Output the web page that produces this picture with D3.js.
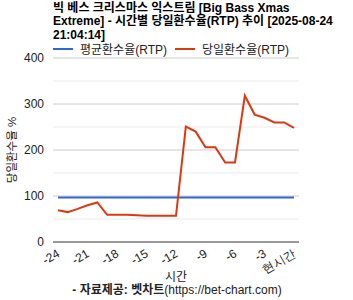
<!DOCTYPE html>
<html lang="ko">
<head>
<meta charset="UTF-8">
<title>RTP chart</title>
<script src="https://d3js.org/d3.v7.min.js"></script>
<style>
  body { margin: 0; background: #fff; }
  svg { display: block; font-family: Arial, "Liberation Sans", "Noto Sans CJK KR", sans-serif; }
</style>
</head>
<body>
<svg width="353" height="300"></svg>
<script>
// hours relative to now (0 = 현시간)
const hours = d3.range(-24, 1);
const dailyRtp = [69, 65, 72, 80, 86, 59, 59, 59, 58, 57, 57, 57, 57,
                  251, 240, 206, 206, 173, 173, 318, 277, 270, 260, 260, 248];
const avgRtp = hours.map(() => 97);
const tickHours = [-24, -21, -18, -15, -12, -9, -6, -3, 0];
const tickLabels = ["-24", "-21", "-18", "-15", "-12", "-9", "-6", "-3", "현시간"];
const yTicks = [0, 100, 200, 300, 400];
const yMinor = [50, 150, 250, 350];
const titleLines = ["빅 베스 크리스마스 익스트림 [Big Bass Xmas", "Extreme] - 시간별 당일환수율(RTP) 추이 [2025-08-24", "21:04:14]"];
const seriesNames = ["평균환수율(RTP)", "당일환수율(RTP)"];
const colors = ["#3366cc", "#dc3912"];

const svg = d3.select("svg");
const plotLeft = 53, plotRight = 299, plotTop = 58, plotBottom = 242;

const x = d3.scaleLinear().domain([-24, 0]).range([58, 294]);
const y = d3.scaleLinear().domain([0, 400]).range([plotBottom, plotTop]);

// title
svg.append("text")
    .attr("x", plotLeft).attr("y", 11.5)
    .attr("font-size", 12).attr("font-weight", "bold").attr("fill", "#000")
    .selectAll("tspan").data(titleLines).enter().append("tspan")
    .attr("x", plotLeft).attr("dy", (d, i) => i ? 13.5 : 0)
    .text(d => d);

// legend
const legend = svg.append("g");
[[53, 80], [175, 202]].forEach((p, i) => {
    legend.append("line")
        .attr("x1", p[0]).attr("x2", p[0] + 20).attr("y1", 49).attr("y2", 49)
        .attr("stroke", colors[i]).attr("stroke-width", 2);
    legend.append("text")
        .attr("x", p[1]).attr("y", 53.5)
        .attr("font-size", 12).attr("fill", "#222")
        .text(seriesNames[i]);
});

// gridlines
svg.append("g").selectAll("line").data(yMinor).enter().append("line")
    .attr("x1", plotLeft).attr("x2", plotRight)
    .attr("y1", d => y(d)).attr("y2", d => y(d))
    .attr("stroke", "#ebebeb").attr("stroke-width", 1);
svg.append("g").selectAll("line").data(yTicks.filter(d => d > 0)).enter().append("line")
    .attr("x1", plotLeft).attr("x2", plotRight)
    .attr("y1", d => y(d)).attr("y2", d => y(d))
    .attr("stroke", "#cccccc").attr("stroke-width", 1);

// y axis labels
const yAxis = svg.append("g")
    .attr("transform", `translate(${plotLeft - 9},0)`)
    .call(d3.axisLeft(y).tickValues(yTicks).tickSize(0).tickPadding(0));
yAxis.select(".domain").remove();
yAxis.selectAll("text").attr("font-size", 12).attr("fill", "#222").attr("font-family", null);

svg.append("text")
    .attr("transform", "translate(15.5,150) rotate(-90)")
    .attr("text-anchor", "middle").attr("font-size", 11.5).attr("fill", "#222")
    .text("당일환수율 %");

// lines
const line = d3.line().x((d, i) => x(hours[i])).y(d => y(d));
svg.append("path").datum(avgRtp)
    .attr("d", line).attr("fill", "none")
    .attr("stroke", colors[0]).attr("stroke-width", 2);
svg.append("path").datum(dailyRtp)
    .attr("d", line).attr("fill", "none")
    .attr("stroke", colors[1]).attr("stroke-width", 2);

// baseline
svg.append("line")
    .attr("x1", plotLeft).attr("x2", plotRight).attr("y1", plotBottom).attr("y2", plotBottom)
    .attr("stroke", "#333").attr("stroke-width", 1);

// x axis labels
const xAxis = svg.append("g")
    .attr("transform", `translate(0,${plotBottom})`)
    .call(d3.axisBottom(x).tickValues(tickHours).tickSize(0)
        .tickFormat((d, i) => tickLabels[i]));
xAxis.select(".domain").remove();
xAxis.selectAll("text")
    .attr("font-size", 12).attr("fill", "#222").attr("font-family", null)
    .attr("text-anchor", "end")
    .attr("dy", null).attr("y", 0)
    .attr("transform", "translate(2,14) rotate(-30)");

svg.append("text")
    .attr("x", 176).attr("y", 281)
    .attr("text-anchor", "middle").attr("font-size", 12).attr("fill", "#222")
    .text("시간");
const credit = svg.append("text")
    .attr("x", 177).attr("y", 294)
    .attr("text-anchor", "middle").attr("font-size", 12).attr("fill", "#222");
credit.append("tspan").attr("font-weight", "bold").text("- 자료제공: 벳차트");
credit.append("tspan").text("(https://bet-chart.com)");
</script>
</body>
</html>
